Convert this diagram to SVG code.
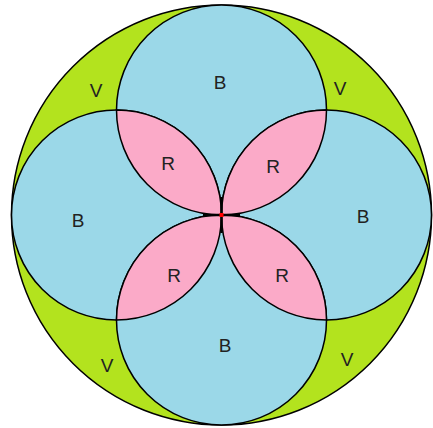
<svg xmlns="http://www.w3.org/2000/svg" width="433" height="428" viewBox="0 0 433 428">
<style>
.ln{stroke:#000;stroke-width:1.5}
.g{fill:#b3e31e}
.b{fill:#9bd8e8}
.p{fill:#fbaac8}
text{font-family:"Liberation Sans",Arial,sans-serif;font-size:19px;fill:#222;text-anchor:middle}
</style>
<rect width="433" height="428" fill="#fff"/>
<g id="outer"><circle class="g ln" cx="221.5" cy="215" r="210"/></g>
<g id="circle-top"><circle class="b ln" cx="221.5" cy="110" r="105"/></g>
<g id="circle-left"><circle class="b ln" cx="116.5" cy="215" r="105"/></g>
<g id="circle-right"><circle class="b ln" cx="326.5" cy="215" r="105"/></g>
<g id="circle-bottom"><circle class="b ln" cx="221.5" cy="320" r="105"/></g>
<g id="petal-tl"><path class="p ln" d="M116.5 110A105 105 0 0 0 221.5 215A105 105 0 0 0 116.5 110Z"/></g>
<g id="petal-tr"><path class="p ln" d="M326.5 110A105 105 0 0 0 221.5 215A105 105 0 0 0 326.5 110Z"/></g>
<g id="petal-bl"><path class="p ln" d="M116.5 320A105 105 0 0 0 221.5 215A105 105 0 0 0 116.5 320Z"/></g>
<g id="petal-br"><path class="p ln" d="M326.5 320A105 105 0 0 1 221.5 215A105 105 0 0 1 326.5 320Z"/></g>
<g id="connectors">
<path d="M203 215H240M221.5 197V233" stroke="#000" stroke-width="2.5" fill="none"/>
</g>
<g id="center"><rect x="219.5" y="213" width="4" height="4" fill="#f00"/></g>
<g id="labels">
<text x="220" y="89">B</text>
<text x="78" y="227">B</text>
<text x="363" y="223">B</text>
<text x="225" y="352">B</text>
<text x="168" y="170">R</text>
<text x="273" y="173">R</text>
<text x="174" y="282">R</text>
<text x="282" y="282">R</text>
<text x="96" y="97">V</text>
<text x="340" y="95">V</text>
<text x="107" y="372">V</text>
<text x="347" y="366">V</text>
</g>
</svg>
